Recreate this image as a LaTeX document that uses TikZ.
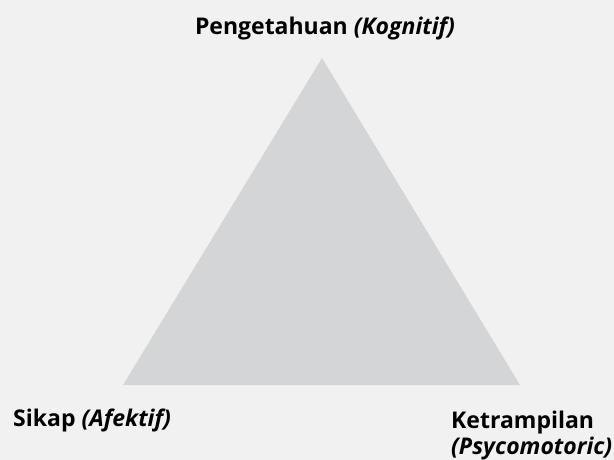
\documentclass[tikz,border=0pt]{standalone}
\usepackage{fontspec}
\setmainfont{Open Sans}
\usetikzlibrary{positioning}
\definecolor{bggray}{HTML}{F1F1F1}
\definecolor{trigray}{HTML}{D4D5D6}

\begin{document}
\begin{tikzpicture}[x = 1pt, y = -1pt,
    lbl/.style = {font=\fontsize{23}{26}\selectfont\bfseries, inner sep=0pt}]
    \fill[bggray] (0,0) rectangle (614,460);
    \useasboundingbox (0,0) rectangle (614,460);
    \coordinate (top) at (322,58);
    \coordinate (left) at (123,385);
    \coordinate (right) at (520,385);
    \fill[trigray] (top) -- (right) -- (left) -- cycle;
    \node[lbl, anchor=base] (kog) at (325,35) {Pengetahuan \textit{(Kognitif)}};
    \node[lbl, anchor=base west] (afek) at (13,426) {Sikap \textit{(Afektif)}};
    \node[lbl, anchor=base west, align=left] (psy) at (451,454) {Ketrampilan\\\textit{(Psycomotoric)}};
    \end{tikzpicture}
\end{document}
